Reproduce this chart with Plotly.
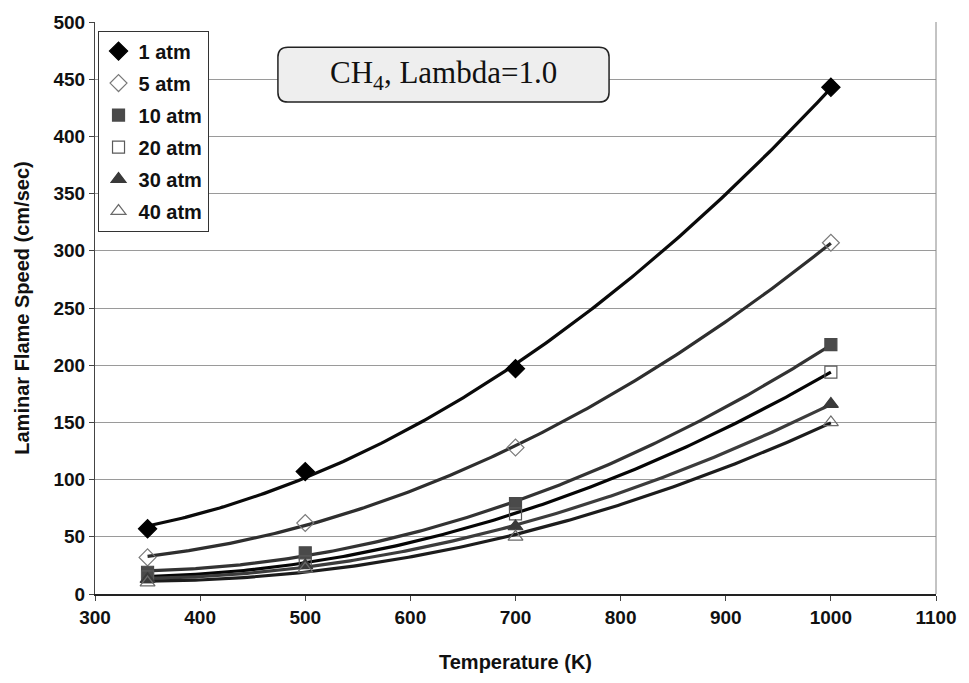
import numpy as np
import plotly.graph_objects as go

temps = [350, 500, 700, 1000]
series_names = ["1 atm", "5 atm", "10 atm", "20 atm", "30 atm", "40 atm"]
speed_1atm = [57, 107, 197, 443]
speed_5atm = [32, 62, 128, 307]
speed_10atm = [19, 36, 79, 218]
speed_20atm = [15, 28, 70, 194]
speed_30atm = [13, 25, 59, 166]
speed_40atm = [10, 22, 50, 150]
all_speeds = [speed_1atm, speed_5atm, speed_10atm, speed_20atm, speed_30atm, speed_40atm]

x_ticks = [300, 400, 500, 600, 700, 800, 900, 1000, 1100]
y_ticks = [0, 50, 100, 150, 200, 250, 300, 350, 400, 450, 500]

symbols = ["diamond", "diamond-open", "square", "square-open", "triangle-up", "triangle-up-open"]
marker_colors = ["#000000", "#7a7a7a", "#4a4a4a", "#5a5a5a", "#3a3a3a", "#6a6a6a"]
line_colors = ["#0a0a0a", "#2e2e2e", "#333333", "#050505", "#3c3c3c", "#1c1c1c"]
marker_sizes = [14, 13, 12, 12, 13, 13]

fig = go.Figure()

# polynomial (order 2) trendlines, as in the original chart
tt = np.linspace(min(temps), max(temps), 200)
for name, ys, lc in zip(series_names, all_speeds, line_colors):
    c = np.polyfit(temps, ys, 2)
    fig.add_trace(go.Scatter(x=tt, y=np.polyval(c, tt), mode="lines",
                             line=dict(color=lc, width=3.2), showlegend=False,
                             hoverinfo="skip"))

for i, (name, ys, sym, mc, ms) in enumerate(zip(series_names, all_speeds, symbols, marker_colors, marker_sizes)):
    fig.add_trace(go.Scatter(x=temps, y=ys, mode="markers", name=name,
                             legendgroup=f"g{i}",
                             marker=dict(symbol=sym, size=ms, color=mc,
                                         line=dict(color=mc, width=1.2))))

# rounded title box
x0, x1, y0, y1 = 474, 789, 430, 478
rx, ry = 9.5, 8.7
path = (f"M {x0+rx},{y0} L {x1-rx},{y0} Q {x1},{y0} {x1},{y0+ry} "
        f"L {x1},{y1-ry} Q {x1},{y1} {x1-rx},{y1} L {x0+rx},{y1} "
        f"Q {x0},{y1} {x0},{y1-ry} L {x0},{y0+ry} Q {x0},{y0} {x0+rx},{y0} Z")
fig.add_shape(type="path", path=path, xref="x", yref="y",
              fillcolor="#eeeeee", line=dict(color="#222222", width=1.5), layer="above")
fig.add_annotation(x=(x0 + x1) / 2, y=(y0 + y1) / 2, xref="x", yref="y",
                   text="CH<sub>4</sub>, Lambda=1.0", showarrow=False,
                   font=dict(family="Liberation Serif, Times New Roman, serif", size=31, color="#111"))

# right border of plot area
fig.add_shape(type="line", xref="paper", yref="paper", x0=1, x1=1, y0=0, y1=1,
              line=dict(color="#888888", width=1))

fig.update_layout(
    width=969, height=683,
    margin=dict(l=95, r=25, t=19, b=89),
    paper_bgcolor="white", plot_bgcolor="white",
    font=dict(family="Liberation Sans, Arial, sans-serif", color="#111"),
    legend=dict(x=0.003, y=0.985, xanchor="left", yanchor="top",
                bordercolor="#333", borderwidth=1, bgcolor="white",
                font=dict(size=20, weight="bold"), tracegroupgap=3,
                traceorder="grouped", itemwidth=30),
    xaxis=dict(range=[300, 1100], tickvals=x_ticks, showgrid=False,
               showline=True, linecolor="#222", linewidth=1.5,
               ticks="outside", ticklen=5, tickcolor="#444",
               tickfont=dict(size=19, weight="bold"),
               title=dict(text="Temperature (K)", font=dict(size=20, weight="bold"), standoff=28),
               zeroline=False),
    yaxis=dict(range=[0, 500], tickvals=y_ticks, showgrid=True, gridcolor="#9a9a9a", gridwidth=1,
               showline=True, linecolor="#444", linewidth=1,
               ticks="outside", ticklen=5, tickcolor="#444",
               tickfont=dict(size=19, weight="bold"),
               title=dict(text="Laminar Flame Speed (cm/sec)", font=dict(size=20, weight="bold"), standoff=18),
               zeroline=False),
)

fig.write_html("out.html")
